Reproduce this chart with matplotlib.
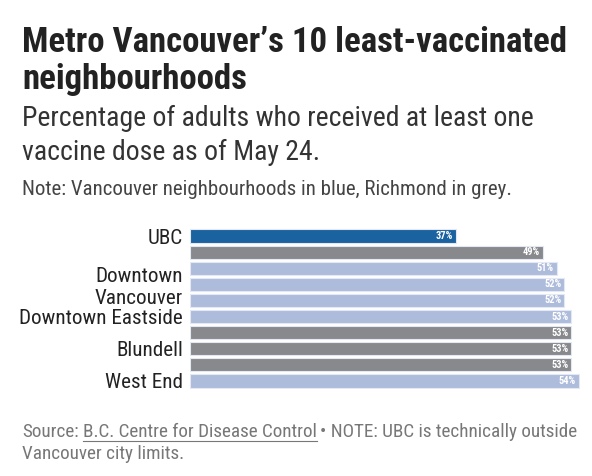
import matplotlib.pyplot as plt
from matplotlib import font_manager

names = {f.name for f in font_manager.fontManager.ttflist}
FONT = 'Roboto'
for cand in ['Roboto Condensed', 'Liberation Sans Narrow', 'DejaVu Sans Condensed']:
    if cand in names:
        FONT = cand
        break
plt.rcParams['font.family'] = [FONT, 'DejaVu Sans']

# data (top to bottom)
labels = ['UBC', '', '', 'Downtown\nVancouver', '', 'Downtown Eastside', '', 'Blundell', '', 'West End']
values = [37, 49, 51, 52, 52, 53, 53, 53, 53, 54]
groups = ['ubc', 'richmond', 'vancouver', 'vancouver', 'vancouver',
          'vancouver', 'richmond', 'richmond', 'richmond', 'vancouver']

colors = {'ubc': '#1a62a0', 'richmond': '#88898d', 'vancouver': '#aebcdc'}

W, H = 592, 476
fig = plt.figure(figsize=(W / 100, H / 100), dpi=100)


def px(x, y):
    return x / W, 1 - y / H


fig.text(*px(22, 52), 'Metro Vancouver’s 10 least-vaccinated', fontsize=25,
         fontweight='bold', color='#222222', va='baseline')
fig.text(*px(22, 89), 'neighbourhoods', fontsize=25,
         fontweight='bold', color='#222222', va='baseline')
fig.text(*px(22, 126), 'Percentage of adults who received at least one', fontsize=20,
         color='#333333', va='baseline')
fig.text(*px(22, 160), 'vaccine dose as of May 24.', fontsize=20,
         color='#333333', va='baseline')
fig.text(*px(22, 195), 'Note: Vancouver neighbourhoods in blue, Richmond in grey.',
         fontsize=15, color='#444444', va='baseline')

# source line, pieces placed one after another
fig.canvas.draw()
r = fig.canvas.get_renderer()
src_size = 13.8
x = 22
for i, part in enumerate(['Source:', 'B.C. Centre for Disease Control',
                          '• NOTE: UBC is technically outside']):
    t = fig.text(*px(x, 437), part, fontsize=src_size, color='#777777', va='baseline')
    w = t.get_window_extent(r).width
    if i == 1:
        fig.add_artist(plt.Line2D([x / W, (x + w) / W], [1 - 441 / H] * 2,
                                  color='#777777', lw=0.8))
    x += w + 4
fig.text(*px(22, 459), 'Vancouver city limits.', fontsize=src_size, color='#777777',
         va='baseline')

ax = fig.add_axes([190 / W, 1 - 389 / H, (580 - 190) / W, (389 - 228) / H])
y = list(range(len(values)))
ax.barh(y, values, height=0.82, color=[colors[g] for g in groups],
        edgecolor='#e3e8f2', linewidth=0.8)
for yi, v in zip(y, values):
    ax.text(v - 0.4, yi, f'{v}%', ha='right', va='center', fontsize=7.5,
            fontweight='bold', color='white')
ax.set_yticks(y)
ax.set_yticklabels(labels, fontsize=15.2, color='#222222', linespacing=1.2)
ax.set_xlim(0, 54.2)
ax.set_ylim(len(values) - 0.5, -0.5)
ax.set_xticks([])
ax.tick_params(axis='y', length=0, pad=5)
for s in ax.spines.values():
    s.set_visible(False)

fig.savefig('out.png', dpi=100)
